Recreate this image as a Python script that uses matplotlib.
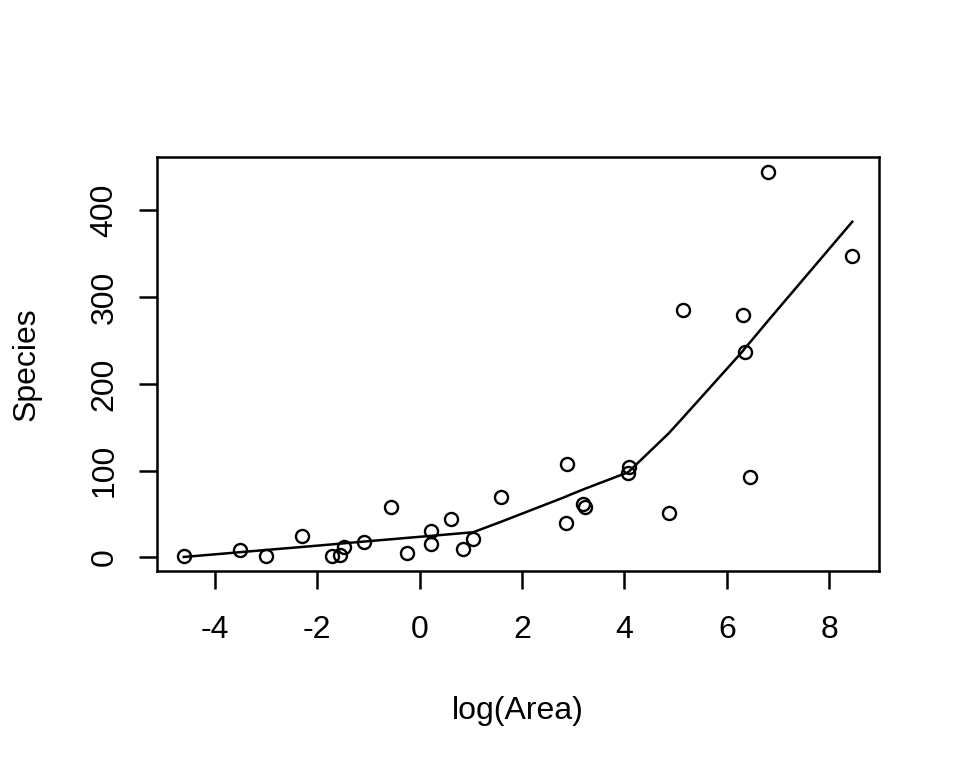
import numpy as np
import matplotlib
matplotlib.use("Agg")
import matplotlib.pyplot as plt

# Galapagos islands: species count and island area (km^2)
species = [58, 31, 3, 25, 2, 18, 10, 8, 2, 97, 93, 58, 5, 40,
           347, 51, 2, 104, 108, 12, 70, 280, 237, 444, 62, 285, 44, 16, 21]
area = [25.09, 1.24, 0.21, 0.10, 0.05, 0.34, 2.33, 0.03, 0.18,
        58.27, 634.49, 0.57, 0.78, 17.35, 4669.32, 129.49, 0.01, 59.56, 17.95,
        0.23, 4.89, 551.62, 572.33, 903.82, 24.08, 170.92, 1.84, 1.24, 2.85]

# fitted curve, at the sorted log(Area) values
fitted_sorted = [0.5, 6, 8.6, 12, 15, 15.8, 16.3, 18.3, 20.9,
                 22.5, 24.8, 24.8, 26.8, 28, 29, 41, 70, 71, 78,
                 79, 98, 99, 143, 161, 238, 241, 248, 273, 387]

x = np.log(area)
y = np.array(species)
xs = np.sort(x)

plt.rcParams['font.family'] = ['Liberation Sans', 'DejaVu Sans']
plt.rcParams['axes.unicode_minus'] = False
FS = 23

fig = plt.figure(figsize=(9.6, 7.68), dpi=100)
ax = fig.add_axes([157/960, 1 - 571/768, (879 - 157)/960, (571 - 157)/768])

ax.plot(xs, fitted_sorted, color='black', lw=1.8)
ax.plot(x, y, ls='none', marker='o', ms=9.4, mfc='none', mec='black', mew=1.7)

# R-style 4% padding of the data range
xr = x.max() - x.min()
yr = y.max() - y.min()
ax.set_xlim(x.min() - 0.04*xr, x.max() + 0.04*xr)
ax.set_ylim(y.min() - 0.04*yr, y.max() + 0.04*yr)

ax.set_xticks([-4, -2, 0, 2, 4, 6, 8])
ax.set_yticks([0, 100, 200, 300, 400])
ax.tick_params(axis='both', length=13, width=1.8, labelsize=FS)
ax.tick_params(axis='x', pad=19)
ax.tick_params(axis='y', pad=14)
for lab in ax.get_yticklabels():
    lab.set_rotation(90)
    lab.set_va('center')
for s in ax.spines.values():
    s.set_linewidth(1.8)

ax.set_xlabel('log(Area)', fontsize=FS)
ax.xaxis.set_label_coords(0.5, -(719 - 571)/414)
ax.xaxis.label.set_va('baseline')
ax.set_ylabel('Species', fontsize=FS)
ax.yaxis.set_label_coords(-(157 - 35)/722, 0.5)
ax.yaxis.label.set_va('baseline')

fig.savefig('out.png', dpi=100)
plt.close(fig)
